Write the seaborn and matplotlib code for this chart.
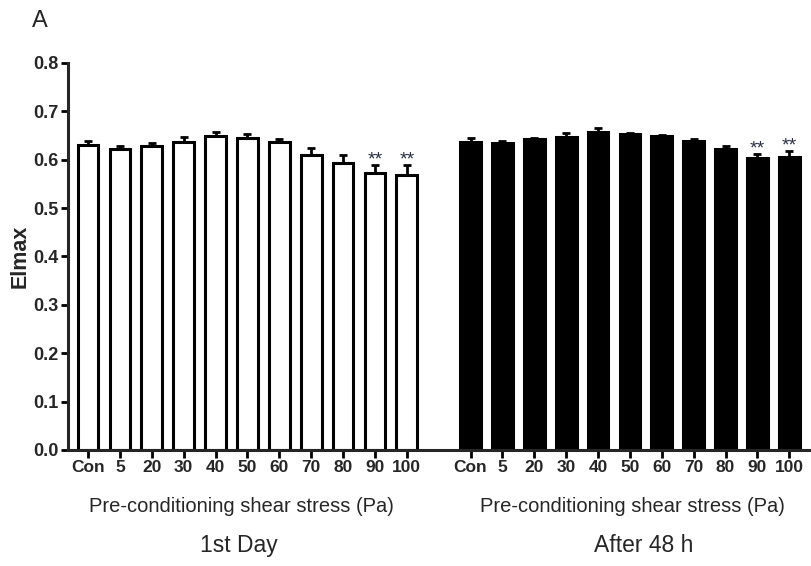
import numpy as np
import pandas as pd
import matplotlib
matplotlib.use("Agg")
import matplotlib.pyplot as plt
import matplotlib.transforms as mtransforms
import seaborn as sns

# Pre-conditioning shear stress levels (Pa)
categories = ["Con", "5", "20", "30", "40", "50", "60", "70", "80", "90", "100"]

# Maximum elongation index (mean and SEM)
day1_mean = [0.630, 0.621, 0.628, 0.636, 0.649, 0.645, 0.636, 0.610, 0.592, 0.572, 0.568]
day1_sem = [0.009, 0.007, 0.006, 0.010, 0.009, 0.007, 0.007, 0.013, 0.018, 0.016, 0.020]
h48_mean = [0.637, 0.635, 0.642, 0.647, 0.658, 0.652, 0.649, 0.638, 0.621, 0.603, 0.606]
h48_sem = [0.007, 0.004, 0.003, 0.007, 0.007, 0.002, 0.002, 0.004, 0.008, 0.009, 0.011]

groups = ["1st Day", "After 48 h"]
significant = ["90", "100"]

y_ticks = [0.0, 0.1, 0.2, 0.3, 0.4, 0.5, 0.6, 0.7, 0.8]

sns.set_style("ticks")
plt.rcParams["font.family"] = ["Liberation Sans", "DejaVu Sans"]

rows = []
for g, means in zip(groups, [day1_mean, h48_mean]):
    for c, m in zip(categories, means):
        rows.append({"slot": f"{g}|{c}", "group": g, "Elmax": m})
df = pd.DataFrame(rows)

order = [f"{groups[0]}|{c}" for c in categories] + ["gap"] + [f"{groups[1]}|{c}" for c in categories]

fig = plt.figure(figsize=(8.11, 5.66), dpi=100)
ax = fig.add_axes([0.0838, 0.205, 0.915, 0.684])

sns.barplot(data=df, x="slot", y="Elmax", hue="group", order=order,
            palette={groups[0]: "white", groups[1]: "black"},
            dodge=False, width=0.65, edgecolor="black", linewidth=2.2,
            errorbar=None, legend=False, ax=ax)

# One-sided SEM bars, with significance marks above the treated groups
for g, means, sems in zip(groups, [day1_mean, h48_mean], [day1_sem, h48_sem]):
    pos = np.array([order.index(f"{g}|{c}") for c in categories])
    ax.errorbar(pos, means, yerr=[np.zeros(len(sems)), sems], fmt="none",
                ecolor="black", elinewidth=2.0, capsize=2.9, capthick=2.0, zorder=5)
    for c, m, s, p in zip(categories, means, sems, pos):
        if c in significant:
            ax.annotate("**", xy=(p, m + s), xytext=(0, 0.5), textcoords="offset points",
                        ha="center", va="baseline", fontsize=14, color="#2b2f45")

ticks = [order.index(f"{g}|{c}") for g in groups for c in categories]
ax.set_xticks(ticks)
ax.set_xticklabels(categories * 2, fontsize=12.5, fontweight="bold")
ax.set_xlim(-0.63, 22.65)
ax.set_ylim(0, 0.8)
ax.set_yticks(y_ticks)
ax.set_yticklabels([f"{v:.1f}" for v in y_ticks], fontsize=13, fontweight="bold")
ax.set_xlabel("")
ax.set_ylabel("")

for side in ["top", "right"]:
    ax.spines[side].set_visible(False)
for side in ["left", "bottom"]:
    ax.spines[side].set_linewidth(2.2)
ax.tick_params(axis="both", width=2.0, length=5, color="black", pad=1.5)
ax.tick_params(axis="x", length=6)

fig.text(20 / 811, 1 - 256 / 566, "Elmax", rotation=90, ha="center", va="center",
         fontsize=15.5, fontweight="bold")

trans = mtransforms.blended_transform_factory(ax.transData, fig.transFigure)
ax.text(4.8, 0.106, "Pre-conditioning shear stress (Pa)", transform=trans,
        ha="center", va="center", fontsize=14.5)
ax.text(17.08, 0.106, "Pre-conditioning shear stress (Pa)", transform=trans,
        ha="center", va="center", fontsize=14.5)
ax.text(4.72, 0.037, groups[0], transform=trans, ha="center", va="center", fontsize=16.5)
ax.text(17.43, 0.037, groups[1], transform=trans, ha="center", va="center", fontsize=16.5)

fig.text(40 / 811, 1 - 21 / 566, "A", ha="center", va="center", fontsize=17)

fig.savefig("out.png", dpi=100)
